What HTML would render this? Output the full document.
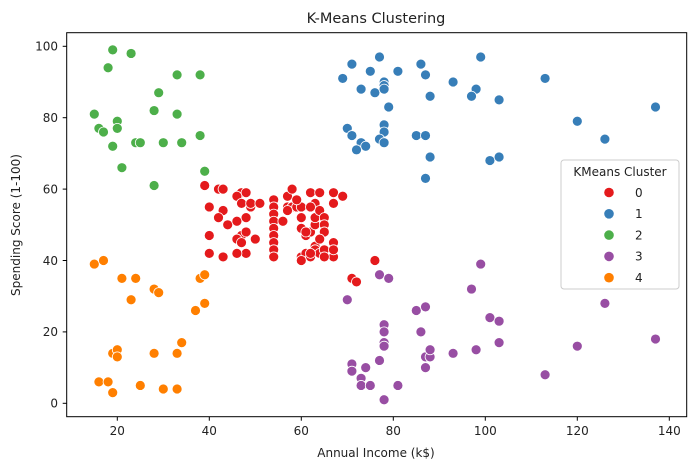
<!DOCTYPE html>
<html><head><meta charset="utf-8"><style>
body{margin:0;background:#fff;font-family:"Liberation Sans","DejaVu Sans",sans-serif}
svg text{font-family:"DejaVu Sans","Liberation Sans",sans-serif;fill:#222}
</style></head><body>
<svg id="chart" width="695" height="470" xmlns="http://www.w3.org/2000/svg">
<rect width="695" height="470" fill="#fff"/>
<text x="376" y="23" font-size="14.5" text-anchor="middle">K-Means Clustering</text>
<g id="grid"></g>
<g id="points"></g>
<rect x="66.7" y="32.7" width="620" height="384" fill="none" stroke="#000" stroke-width="1"/>
<text x="376" y="457" font-size="12" text-anchor="middle">Annual Income (k$)</text>
<text transform="translate(20,225) rotate(-90)" font-size="12" text-anchor="middle">Spending Score (1-100)</text>
<g id="legend"></g>
</svg>
<script>
const xTicks=[20,40,60,80,100,120,140];
const yTicks=[0,20,40,60,80,100];
const clusterLabels=["0","1","2","3","4"];
const clusterColors=["#e41a1c","#377eb8","#4daf4a","#984ea3","#ff7f00"];
const cluster0=[[39,61],[42,60],[43,60],[47,59],[48,59],[40,55],[43,54],[42,52],[44,50],[40,47],[40,42],[43,41],[46,58],[47,56],[49,55],[46,51],[48,52],[47,47],[46,46],[47,45],[48,48],[49,56],[50,46],[48,42],[46,42],[51,56],[54,57],[54,55],[54,53],[54,51],[54,49],[54,47],[54,45],[54,43],[54,41],[57,58],[58,60],[57,55],[58,55],[59,55],[60,52],[60,49],[61,47],[60,41],[61,42],[62,41],[63,44],[62,48],[63,50],[63,52],[62,59],[64,59],[63,56],[64,54],[65,52],[65,50],[65,48],[64,46],[63,43],[64,42],[65,43],[67,41],[67,59],[67,56],[67,45],[69,58],[67,43],[71,35],[72,34],[76,40],[60,55],[59,57],[61,48],[62,55],[57,54],[56,51],[65,41],[62,42],[60,40]];
const cluster1=[[77,97],[71,95],[75,93],[69,91],[81,93],[86,95],[87,92],[99,97],[93,90],[73,88],[76,87],[78,90],[78,89],[78,88],[98,88],[97,86],[88,86],[103,85],[79,83],[70,77],[71,75],[78,78],[78,76],[77,74],[78,73],[73,73],[74,72],[72,71],[85,75],[87,75],[88,69],[87,63],[101,68],[103,69],[113,91],[120,79],[126,74],[137,83]];
const cluster2=[[19,99],[23,98],[18,94],[33,92],[38,92],[29,87],[15,81],[28,82],[33,81],[20,79],[16,77],[17,76],[20,77],[19,72],[24,73],[25,73],[30,73],[34,73],[38,75],[21,66],[28,61],[39,65]];
const cluster3=[[77,36],[79,35],[70,29],[99,39],[97,32],[85,26],[87,27],[101,24],[103,23],[86,20],[78,22],[78,20],[78,17],[78,16],[103,17],[98,15],[93,14],[87,13],[88,13],[88,15],[87,10],[77,12],[71,11],[71,9],[74,10],[73,7],[73,5],[75,5],[81,5],[78,1],[113,8],[120,16],[126,28],[137,18]];
const cluster4=[[15,39],[17,40],[21,35],[24,35],[28,32],[29,31],[23,29],[38,35],[39,36],[37,26],[39,28],[19,14],[20,15],[20,13],[28,14],[33,14],[34,17],[16,6],[18,6],[19,3],[25,5],[30,4],[33,4]];
const clusters=[cluster0,cluster1,cluster2,cluster3,cluster4];
const NS="http://www.w3.org/2000/svg";
function xs(v){return 25.3+4.6*v;}
function ys(v){return 403.3-3.57*v;}
function mk(tag,attrs,parent){const e=document.createElementNS(NS,tag);for(const k in attrs)e.setAttribute(k,attrs[k]);parent.appendChild(e);return e;}
const grid=document.getElementById('grid');
xTicks.forEach(t=>{
  const l=mk('line',{x1:xs(t),x2:xs(t),y1:416.7,y2:420.7,stroke:'#000'},grid);
  
  
  const tx=mk('text',{x:xs(t),y:435,'font-size':12,'text-anchor':'middle'},grid);
  tx.textContent=t;
  
  
});
yTicks.forEach(t=>{
  const l=mk('line',{x1:62.7,x2:66.7,y1:ys(t),y2:ys(t),stroke:'#000'},grid);
  
  
  const tx=mk('text',{x:58,y:ys(t)+4.3,'font-size':12,'text-anchor':'end'},grid);
  tx.textContent=t;
  
  
});
const pts=document.getElementById('points');
clusters.forEach((arr,ci)=>{
  arr.forEach(p=>{
    const c=mk('circle',{cx:xs(p[0]),cy:ys(p[1]),r:5,fill:clusterColors[ci],stroke:'#fff','stroke-width':0.8},pts);
    
    
  });
});
const lg=document.getElementById('legend');
const box=mk('rect',{x:561,y:160,width:118,height:129,rx:3,fill:'#fff','fill-opacity':0.85,stroke:'#ccc'},lg);


const lt=mk('text',{x:620,y:176,'font-size':12,'text-anchor':'middle'},lg);
lt.textContent='KMeans Cluster';


clusterLabels.forEach((lab,i)=>{
  const y=192.5+i*21.3;
  const c=mk('circle',{cx:609,cy:y,r:4.8,fill:clusterColors[i]},lg);
  
  
  const t=mk('text',{x:635,y:y+4.3,'font-size':12},lg);
  t.textContent=lab;
  
  
});
</script>
</body></html>
